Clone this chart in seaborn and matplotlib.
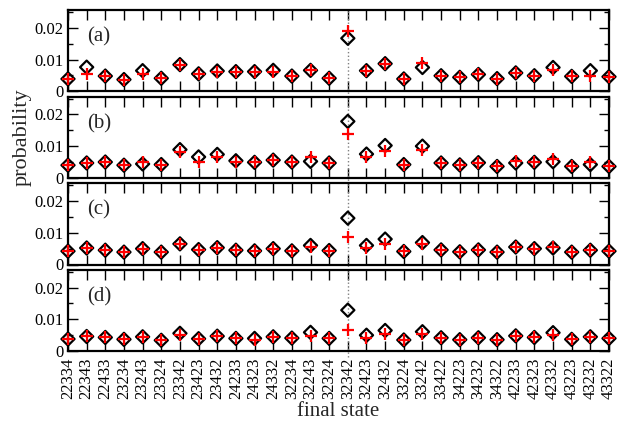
import numpy as np
import pandas as pd
import matplotlib
matplotlib.use("Agg")
import matplotlib.pyplot as plt
from matplotlib.ticker import MultipleLocator, FuncFormatter
import seaborn as sns

sns.set_theme(style="ticks")
plt.rcParams['font.family'] = ['Liberation Serif', 'DejaVu Serif']

# final states (x categories)
estados = ["22334", "22343", "22433", "23234", "23243", "23324", "23342", "23423",
           "23432", "24233", "24323", "24332", "32234", "32243", "32324", "32342",
           "32423", "32432", "33224", "33242", "33422", "34223", "34232", "34322",
           "42233", "42323", "42332", "43223", "43232", "43322"]

# black diamonds / red crosses, one pair per panel
a_negro = [0.0039, 0.0076, 0.0048, 0.0037, 0.0065, 0.0041, 0.0084, 0.0055, 0.0064, 0.0062,
           0.0062, 0.0066, 0.0048, 0.0066, 0.0041, 0.0167, 0.0065, 0.0087, 0.0039, 0.0075,
           0.0049, 0.0044, 0.0053, 0.0040, 0.0058, 0.0049, 0.0075, 0.0047, 0.0065, 0.0046]
a_rojo = [0.0039, 0.0056, 0.0048, 0.0037, 0.0056, 0.0041, 0.0084, 0.0055, 0.0060, 0.0062,
          0.0062, 0.0060, 0.0048, 0.0066, 0.0041, 0.0190, 0.0063, 0.0087, 0.0039, 0.0090,
          0.0049, 0.0044, 0.0053, 0.0040, 0.0058, 0.0049, 0.0066, 0.0047, 0.0049, 0.0046]

b_negro = [0.0040, 0.0047, 0.0050, 0.0040, 0.0044, 0.0042, 0.0089, 0.0066, 0.0074, 0.0054,
           0.0049, 0.0056, 0.0050, 0.0052, 0.0047, 0.0178, 0.0075, 0.0102, 0.0042, 0.0100,
           0.0047, 0.0041, 0.0048, 0.0036, 0.0047, 0.0049, 0.0051, 0.0036, 0.0042, 0.0036]
b_rojo = [0.0040, 0.0047, 0.0050, 0.0040, 0.0051, 0.0042, 0.0083, 0.0050, 0.0066, 0.0051,
          0.0049, 0.0056, 0.0050, 0.0066, 0.0047, 0.0139, 0.0066, 0.0086, 0.0042, 0.0089,
          0.0047, 0.0041, 0.0048, 0.0036, 0.0053, 0.0049, 0.0061, 0.0036, 0.0049, 0.0036]

c_negro = [0.0042, 0.0052, 0.0045, 0.0039, 0.0050, 0.0039, 0.0065, 0.0047, 0.0053, 0.0045,
           0.0043, 0.0050, 0.0043, 0.0060, 0.0044, 0.0146, 0.0060, 0.0080, 0.0041, 0.0069,
           0.0046, 0.0040, 0.0046, 0.0039, 0.0055, 0.0050, 0.0052, 0.0039, 0.0045, 0.0042]
c_rojo = [0.0042, 0.0052, 0.0045, 0.0039, 0.0050, 0.0039, 0.0065, 0.0047, 0.0053, 0.0045,
          0.0043, 0.0050, 0.0043, 0.0056, 0.0044, 0.0086, 0.0052, 0.0065, 0.0041, 0.0064,
          0.0046, 0.0040, 0.0046, 0.0039, 0.0055, 0.0050, 0.0055, 0.0039, 0.0047, 0.0042]

d_negro = [0.0038, 0.0046, 0.0043, 0.0037, 0.0045, 0.0034, 0.0056, 0.0039, 0.0047, 0.0040,
           0.0040, 0.0045, 0.0041, 0.0059, 0.0040, 0.0129, 0.0050, 0.0065, 0.0035, 0.0061,
           0.0042, 0.0036, 0.0042, 0.0036, 0.0048, 0.0043, 0.0058, 0.0037, 0.0045, 0.0040]
d_rojo = [0.0038, 0.0046, 0.0043, 0.0037, 0.0045, 0.0034, 0.0050, 0.0039, 0.0047, 0.0040,
          0.0035, 0.0045, 0.0041, 0.0049, 0.0040, 0.0066, 0.0042, 0.0054, 0.0035, 0.0053,
          0.0042, 0.0036, 0.0042, 0.0036, 0.0047, 0.0043, 0.0050, 0.0037, 0.0044, 0.0040]

paneles = [("(a)", a_negro, a_rojo), ("(b)", b_negro, b_rojo),
           ("(c)", c_negro, c_rojo), ("(d)", d_negro, d_rojo)]
estado_marcado = "32342"

W, H = 620, 426
fig = plt.figure(figsize=(W / 100, H / 100), dpi=100)

izq, der = 68, 609
alto, hueco, arriba = 81.3, 5.3, 10

for i, (etiqueta, negro, rojo) in enumerate(paneles):
    top = arriba + i * (alto + hueco)
    ax = fig.add_axes([izq / W, 1 - (top + alto) / H, (der - izq) / W, alto / H])
    df = pd.DataFrame({"estado": estados, "negro": negro, "rojo": rojo})

    # linea punteada en el estado marcado
    ax.axvline(estados.index(estado_marcado), ymin=-0.07, ymax=1.0, color="gray",
               linestyle=":", linewidth=1.0, clip_on=False, zorder=1)

    sns.scatterplot(data=df, x="estado", y="negro", marker="D", s=45,
                    facecolor="none", edgecolor="black", linewidth=1.6,
                    ax=ax, zorder=3, clip_on=False)
    sns.scatterplot(data=df, x="estado", y="rojo", marker="+", s=75,
                    color="red", linewidth=1.6, ax=ax, zorder=4, clip_on=False)

    ax.set_xlim(0, len(estados) - 1)
    ax.set_ylim(0, 0.0256)
    ax.yaxis.set_major_locator(MultipleLocator(0.01))
    ax.yaxis.set_minor_locator(MultipleLocator(0.005))
    ax.yaxis.set_major_formatter(FuncFormatter(lambda v, p: "0" if v == 0 else f"{v:.2f}"))
    ax.tick_params(axis="both", which="both", direction="in", top=True, right=True,
                   width=1.0, colors="black")
    ax.tick_params(axis="both", which="major", length=7)
    ax.tick_params(axis="y", which="minor", length=3.5)
    ax.tick_params(axis="y", labelsize=12, pad=3)
    for s in ax.spines.values():
        s.set_linewidth(1.6)
        s.set_color("black")
    ax.set_xlabel("")
    ax.set_ylabel("")
    ax.text(0.036, 0.67, etiqueta, transform=ax.transAxes, fontsize=15,
            va="center", ha="left")
    if i < 3:
        ax.tick_params(axis="x", labelbottom=False)
    else:
        ax.tick_params(axis="x", labelsize=12, rotation=90, pad=5)

fig.text(22 / W, 1 - 137 / H, "probability", rotation=90, fontsize=16,
         ha="center", va="center")
fig.text(338 / W, 1 - 411 / H, "final state", fontsize=15, ha="center", va="center")

fig.savefig("out.png", dpi=100)
